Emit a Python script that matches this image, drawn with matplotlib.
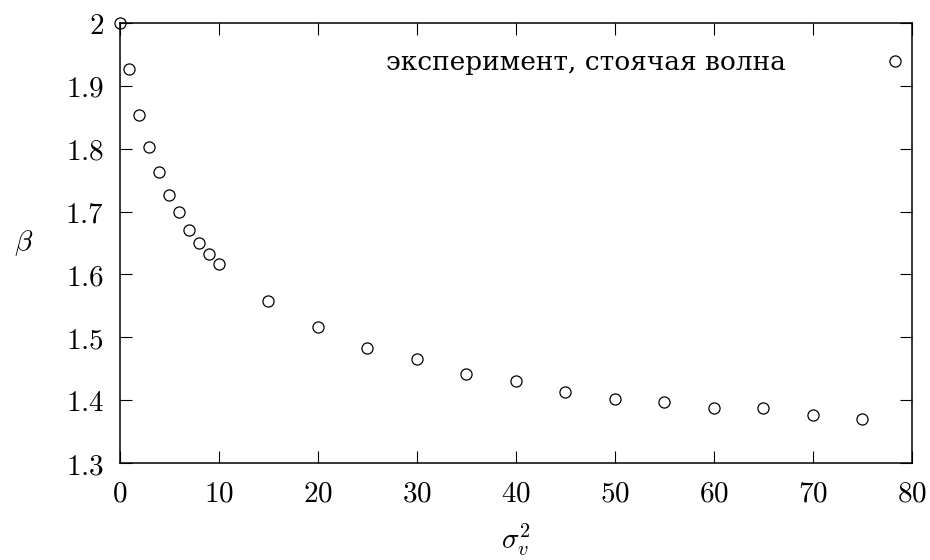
import matplotlib
matplotlib.use("Agg")
import matplotlib.pyplot as plt

# sigma_v^2 values and measured beta (standing wave experiment)
sigma2 = [0, 1, 2, 3, 4, 5, 6, 7, 8, 9, 10,
          15, 20, 25, 30, 35, 40, 45, 50, 55, 60, 65, 70, 75]
beta = [2.0, 1.926, 1.853, 1.803, 1.762, 1.726, 1.699, 1.671, 1.650, 1.632, 1.617,
        1.558, 1.517, 1.483, 1.466, 1.442, 1.431, 1.413, 1.402, 1.398, 1.388, 1.388, 1.376, 1.371]

x_ticks = [0, 10, 20, 30, 40, 50, 60, 70, 80]
x_labels = ["0", "10", "20", "30", "40", "50", "60", "70", "80"]
y_ticks = [1.3, 1.4, 1.5, 1.6, 1.7, 1.8, 1.9, 2.0]
y_labels = ["1.3", "1.4", "1.5", "1.6", "1.7", "1.8", "1.9", "2"]
series_label = "эксперимент, стоячая волна"

plt.rcParams["mathtext.fontset"] = "cm"

fs = 21
fig = plt.figure(figsize=(9.3, 5.6), dpi=100)
ax = fig.add_axes([0.1285, 0.1727, 0.9803 - 0.1285, 0.9595 - 0.1727])

ax.plot(sigma2, beta, linestyle="none", marker="o", markersize=8,
        markerfacecolor="none", markeredgecolor="black", markeredgewidth=0.9,
        clip_on=False, label=series_label)

ax.set_xlim(0, 80)
ax.set_ylim(1.3, 2.0)
ax.set_xticks(x_ticks, ["$%s$" % t for t in x_labels])
ax.set_yticks(y_ticks, ["$%s$" % t for t in y_labels])
ax.tick_params(direction="in", length=8.5, width=0.8, top=True, right=True,
               labelsize=fs)
ax.tick_params(axis="x", pad=12)
ax.tick_params(axis="y", pad=11)
for s in ax.spines.values():
    s.set_linewidth(1.1)

ax.set_xlabel(r"$\sigma_v^2$", fontsize=fs, labelpad=10)
ax.set_ylabel(r"$\beta$", fontsize=fs, rotation=0, labelpad=30, va="center")

# legend: text first, open circle on the right
ax.legend(loc="center right", bbox_to_anchor=(1.0, 0.91), frameon=False,
          markerfirst=False, handlelength=1.28, handletextpad=3.48,
          borderpad=0, borderaxespad=0,
          prop={"family": ["DejaVu Serif"], "size": 19})

fig.savefig("out.png", dpi=100)
